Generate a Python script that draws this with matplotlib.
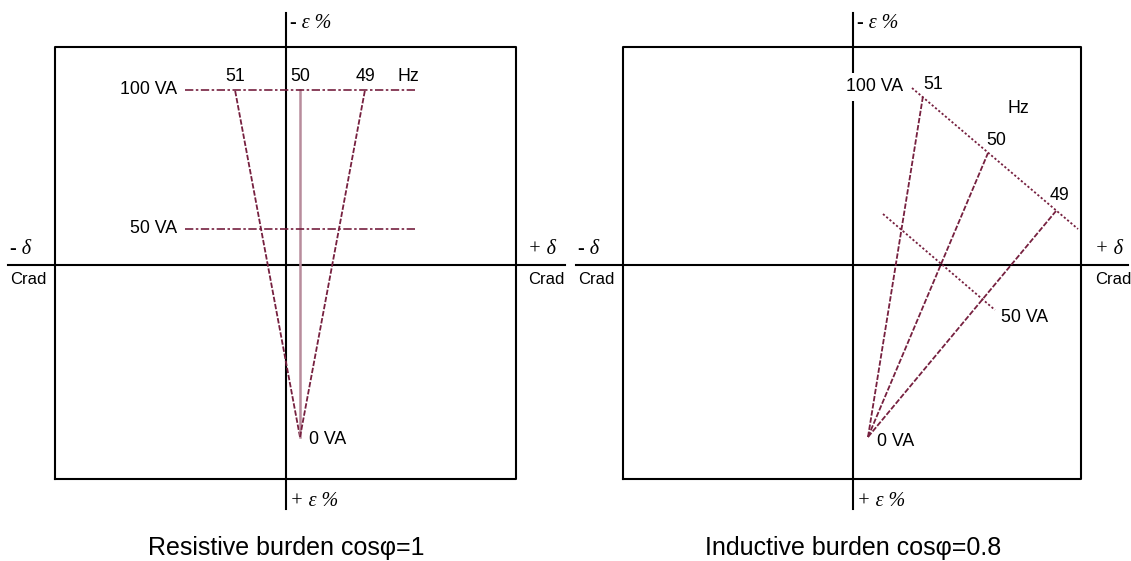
import matplotlib.pyplot as plt

# diagram units: 1 unit = 10 px, origin where the delta / epsilon axes cross
freq_labels = ["51", "50", "49"]
va_labels = ["100 VA", "50 VA"]

# resistive burden (cos phi = 1)
res_vertex = (1.4, -17.2)
res_top_x = [-5.1, 1.4, 7.9]
res_top_y = 17.5
res_va_y = [17.5, 3.6]
res_va_x = (-10.1, 12.9)

# inductive burden (cos phi = 0.8)
ind_vertex = (1.5, -17.2)
ind_end_x = [7.0, 13.5, 20.3]
ind_end_y = [16.9, 11.2, 5.4]
ind_va_x = [(5.9, 22.5), (3.0, 14.2)]
ind_va_y = [(17.7, 3.6), (5.1, -4.5)]

titles = ["Resistive burden cos\u03c6=1", "Inductive burden cos\u03c6=0.8"]

line_col = "#76203f"
light_col = "#b88c9c"
sans = ["Liberation Sans", "DejaVu Sans"]
serif = ["Liberation Serif", "DejaVu Serif"]
narrow = ["Liberation Sans Narrow", "Liberation Sans", "DejaVu Sans"]
fs = 12.8

fig = plt.figure(figsize=(11.31, 5.61), dpi=100)
ax_l = fig.add_axes([0, 0, 570 / 1131, 1])
ax_r = fig.add_axes([570 / 1131, 0, 561 / 1131, 1])
ax_l.set_xlim(-28.6, 28.4)
ax_r.set_xlim(-28.3, 27.8)


def frame(ax, box_x, hax_x, title):
    ax.set_ylim(-29.6, 26.5)
    ax.axis("off")
    # box
    ax.plot([box_x[0], box_x[1], box_x[1], box_x[0], box_x[0]],
            [-21.4, -21.4, 21.8, 21.8, -21.4], color="black", lw=1.5, zorder=1)
    # axes
    ax.plot(hax_x, [0, 0], color="black", lw=1.5, zorder=1)
    ax.plot([0, 0], [-24.4, 25.2], color="black", lw=1.5, zorder=1)
    ax.text(0.4, 24.1, "- \u03b5 %", family=serif, style="italic", fontsize=14.5,
            va="center", ha="left")
    ax.text(0.4, -23.7, "+ \u03b5 %", family=serif, style="italic", fontsize=14.5,
            va="center", ha="left")
    ax.text(hax_x[0] + 0.2, 1.5, "- \u03b4", family=serif, style="italic",
            fontsize=14.5, va="center", ha="left")
    ax.text(hax_x[0] + 0.2, -1.5, "Crad", family=narrow, fontsize=12,
            va="center", ha="left")
    ax.text(24.2, 1.5, "+ \u03b4", family=serif, style="italic",
            fontsize=14.5, va="center", ha="left")
    ax.text(24.2, -1.5, "Crad", family=narrow, fontsize=12,
            va="center", ha="left")
    ax.text(0, -28.3, title, family=sans, fontsize=18, ha="center", va="center")


frame(ax_l, (-23.1, 23.0), (-27.8, 27.9), titles[0])
frame(ax_r, (-23.0, 22.8), (-27.7, 27.5), titles[1])

# left: resistive burden
for x_top, lab in zip(res_top_x, freq_labels):
    if lab == "50":
        ax_l.plot([res_vertex[0], x_top], [res_vertex[1], res_top_y],
                  color=light_col, lw=1.8, zorder=2)
        ax_l.text(x_top - 1.0, res_top_y + 1.3, lab, family=sans, fontsize=fs,
                  ha="left", va="center")
    else:
        ax_l.plot([res_vertex[0], x_top], [res_vertex[1], res_top_y],
                  color=line_col, lw=1.3, dashes=(3, 1), zorder=2)
        ax_l.text(x_top, res_top_y + 1.3, lab, family=sans, fontsize=fs,
                  ha="center", va="center")
ax_l.text(12.2, res_top_y + 1.3, "Hz", family=sans, fontsize=fs,
          ha="center", va="center")
for y, lab in zip(res_va_y, va_labels):
    ax_l.plot(res_va_x, [y, y], color=line_col, lw=1.2,
              dashes=(5, 1.5, 1.5, 1.5), zorder=2)
    ax_l.text(res_va_x[0] - 0.8, y, lab, family=sans, fontsize=fs,
              ha="right", va="center")
ax_l.text(res_vertex[0] + 0.9, res_vertex[1] - 0.3, "0 VA", family=sans,
          fontsize=fs, ha="left", va="center")

# right: inductive burden
for xe, ye in zip(ind_end_x, ind_end_y):
    ax_r.plot([ind_vertex[0], xe], [ind_vertex[1], ye], color=line_col,
              lw=1.3, dashes=(3, 1), zorder=2)
for xs, ys in zip(ind_va_x, ind_va_y):
    ax_r.plot(xs, ys, color=line_col, lw=1.3, dashes=(1.2, 1.2), zorder=2)

ax_r.text(7.0, 18.0, freq_labels[0], family=sans, fontsize=fs, ha="left", va="center")
ax_r.text(13.3, 12.4, freq_labels[1], family=sans, fontsize=fs, ha="left", va="center")
ax_r.text(19.7, 6.9, freq_labels[2], family=sans, fontsize=fs, ha="left", va="center")
ax_r.text(16.5, 15.6, "Hz", family=sans, fontsize=fs, ha="center", va="center")
ax_r.text(5.0, 17.8, va_labels[0], family=sans, fontsize=fs, ha="right",
          va="center", zorder=3,
          bbox=dict(fc="white", ec="none", pad=4))
ax_r.text(14.8, -5.3, va_labels[1], family=sans, fontsize=fs, ha="left", va="center")
ax_r.text(ind_vertex[0] + 0.9, ind_vertex[1] - 0.5, "0 VA", family=sans,
          fontsize=fs, ha="left", va="center")

fig.savefig("out.png", dpi=100, facecolor="white")
